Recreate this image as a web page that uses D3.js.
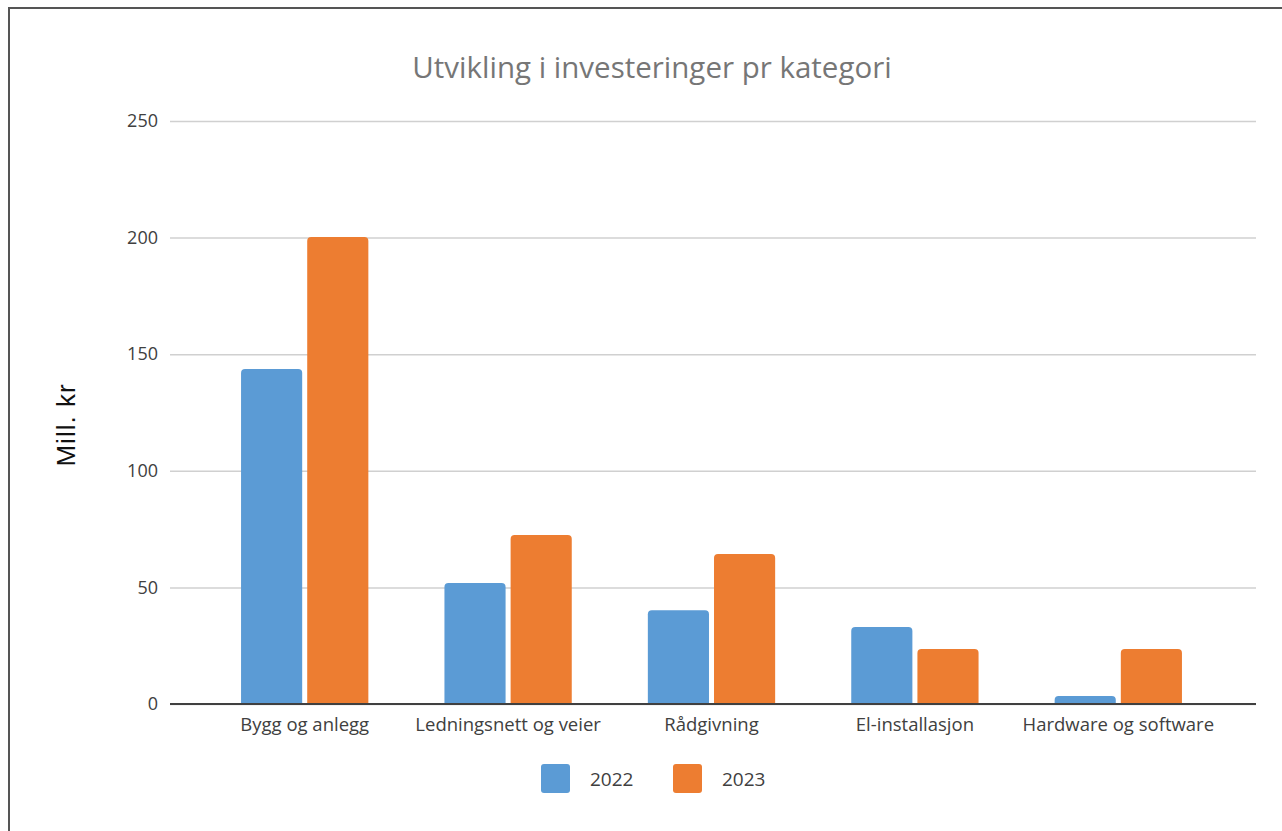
<!DOCTYPE html>
<html>
<head>
<meta charset="utf-8">
<script src="https://cdn.jsdelivr.net/npm/d3@7"></script>
<style>
  body { margin: 0; background: #fff; }
  svg { display: block; }
</style>
</head>
<body>
<div id="chart"></div>
<script>
// data
const categories = ["Bygg og anlegg", "Ledningsnett og veier", "Rådgivning", "El-installasjon", "Hardware og software"];
const seriesNames = ["2022", "2023"];
const values2022 = [143.7, 51.9, 40.2, 33.0, 3.4];
const values2023 = [200.3, 72.5, 64.3, 23.6, 23.6];
const yTicks = [0, 50, 100, 150, 200, 250];
const colors = ["#5B9BD5", "#ED7D31"];

const width = 1282, height = 831;
const font = "'Open Sans', 'Noto Sans', sans-serif";

const svg = d3.select("#chart").append("svg")
    .attr("width", width)
    .attr("height", height);

// frame
svg.append("path")
    .attr("d", `M9,${height} V8 H${width}`)
    .attr("fill", "none")
    .attr("stroke", "#555")
    .attr("stroke-width", 2);

const plot = {left: 170, right: 1256, top: 121, bottom: 704};

const y = d3.scaleLinear().domain([0, 250]).range([plot.bottom, plot.top]);
const x0 = d3.scaleBand().domain(categories).range([203, 1220]).paddingInner(0).paddingOuter(0);
const x1 = d3.scaleBand().domain(seriesNames).range([0, x0.bandwidth()]).paddingInner(0.076).paddingOuter(0.575);

// title
svg.append("text")
    .attr("x", 652).attr("y", 78)
    .attr("text-anchor", "middle")
    .attr("font-family", font)
    .attr("font-size", 29.5)
    .attr("fill", "#767676")
    .text("Utvikling i investeringer pr kategori");

// gridlines + y labels
const yAxis = d3.axisLeft(y).tickValues(yTicks).tickSize(plot.left - plot.right).tickPadding(12);
const gy = svg.append("g").attr("transform", `translate(${plot.left},0)`).call(yAxis);
gy.select(".domain").remove();
gy.selectAll(".tick line").attr("stroke", "#d0d0d0").attr("stroke-width", 1.5);
gy.selectAll(".tick text")
    .attr("font-family", font)
    .attr("font-size", 18)
    .attr("fill", "#404040");

// y axis title
svg.append("text")
    .attr("transform", "translate(75,425) rotate(-90)")
    .attr("text-anchor", "middle")
    .attr("font-family", "'Liberation Sans', Arial, sans-serif")
    .attr("font-size", 26)
    .attr("letter-spacing", 1)
    .attr("fill", "#111")
    .text("Mill. kr");

// bars
const rows = categories.map((c, i) => ({cat: c, vals: [values2022[i], values2023[i]]}));
const groups = svg.selectAll("g.group").data(rows).join("g")
    .attr("class", "group")
    .attr("transform", d => `translate(${x0(d.cat)},0)`);

const r = 4;
groups.selectAll("path").data(d => d.vals.map((v, i) => ({key: seriesNames[i], v: v, i: i}))).join("path")
    .attr("fill", d => colors[d.i])
    .attr("d", d => {
        const xl = x1(d.key), w = x1.bandwidth();
        const yt = y(d.v), yb = y(0);
        const rr = Math.min(r, (yb - yt));
        return `M${xl},${yb} V${yt + rr} Q${xl},${yt} ${xl + rr},${yt} H${xl + w - rr} Q${xl + w},${yt} ${xl + w},${yt + rr} V${yb} Z`;
    });

// x axis baseline + labels
svg.append("line")
    .attr("x1", plot.left).attr("x2", plot.right)
    .attr("y1", y(0)).attr("y2", y(0))
    .attr("stroke", "#404040")
    .attr("stroke-width", 2);

const xAxis = d3.axisBottom(x0).tickSize(0).tickPadding(14);
const gx = svg.append("g").attr("transform", `translate(0,${y(0)})`).call(xAxis);
gx.select(".domain").remove();
gx.selectAll(".tick text")
    .attr("font-family", font)
    .attr("font-size", 18.5)
    .attr("fill", "#404040");

// legend
const legend = svg.append("g").attr("transform", "translate(541,764)");
const item = legend.selectAll("g").data(seriesNames).join("g")
    .attr("transform", (d, i) => `translate(${i * 132},0)`);
item.append("rect")
    .attr("width", 29).attr("height", 29).attr("rx", 3)
    .attr("fill", (d, i) => colors[i]);
item.append("text")
    .attr("x", 49).attr("y", 22)
    .attr("font-family", font)
    .attr("font-size", 19)
    .attr("fill", "#404040")
    .text(d => d);
</script>
</body>
</html>
